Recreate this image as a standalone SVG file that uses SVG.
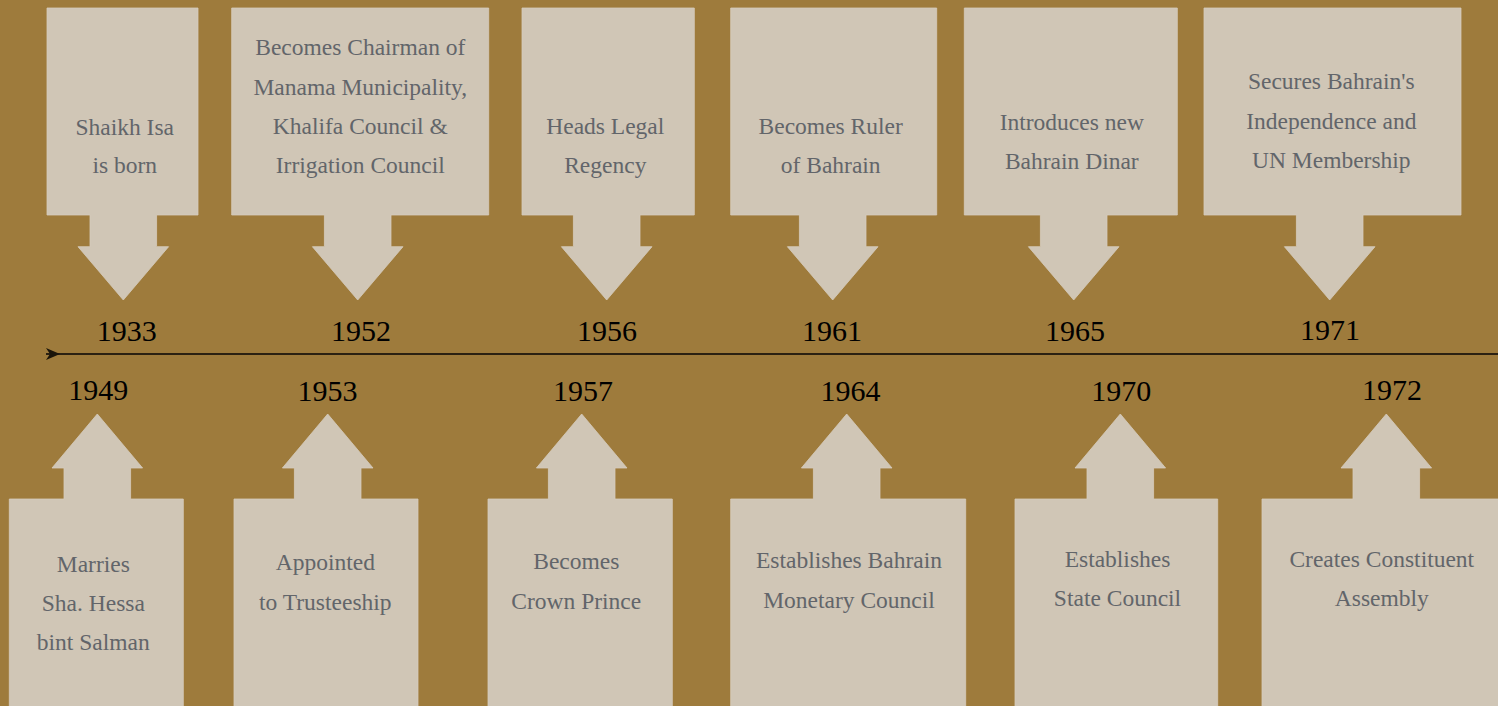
<svg xmlns="http://www.w3.org/2000/svg" width="1498" height="706" viewBox="0 0 1498 706">
<defs>
<style>
.bg{fill:#9e7b3c}
.co{fill:#d0c6b6;stroke:#d6ccbd;stroke-width:0.8}
text{font-family:"Liberation Serif",Tinos,"Times New Roman",Times,"Nimbus Roman","Nimbus Roman No9 L",FreeSerif,"Noto Serif","DejaVu Serif",Georgia,serif}
.t{font-size:23.5px;fill:#62656a;text-anchor:middle}
.y{font-size:30px;fill:#000;text-anchor:middle}
.axis{stroke:#2b2112;stroke-width:2;fill:none}
</style>
<marker id="arr" viewBox="0 0 14 12" refX="0" refY="6" markerWidth="14" markerHeight="12" markerUnits="userSpaceOnUse" orient="auto">
<path d="M0,0 L14,6 L0,12 L4,6 Z" fill="#1a140a"/>
</marker>
</defs>
<rect class="bg" x="0" y="0" width="1498" height="706"/>
<g id="connectors">
<line class="axis" x1="46" y1="354" x2="1498" y2="354" marker-start="url(#arr)"/>
</g>
<g id="e1933">
<path class="co" d="M47,8 H198 V215 H156.6 V246.7 H168.6 L123.3,300 L78,246.7 H90 V215 H47 Z"/>
<text class="t" x="124.7" y="134.5">Shaikh Isa</text>
<text class="t" x="124.7" y="173.2">is born</text>
<text class="y" x="126.7" y="341">1933</text>
</g>
<g id="e1952">
<path class="co" d="M231.7,8 H488.7 V215 H391 V246.7 H403 L357.7,300 L312.4,246.7 H324.4 V215 H231.7 Z"/>
<text class="t" x="360.3" y="55.3">Becomes Chairman of</text>
<text class="t" x="360.3" y="94.7">Manama Municipality,</text>
<text class="t" x="360.3" y="134">Khalifa Council &amp;</text>
<text class="t" x="360.3" y="173.3">Irrigation Council</text>
<text class="y" x="361" y="341">1952</text>
</g>
<g id="e1956">
<path class="co" d="M522,8 H694.3 V215 H640 V246.7 H652 L606.7,300 L561.4,246.7 H573.4 V215 H522 Z"/>
<text class="t" x="605.3" y="133.5">Heads Legal</text>
<text class="t" x="605.3" y="172.5">Regency</text>
<text class="y" x="607" y="341">1956</text>
</g>
<g id="e1961">
<path class="co" d="M730.7,8 H936.7 V215 H866 V246.7 H878 L832.7,300 L787.4,246.7 H799.4 V215 H730.7 Z"/>
<text class="t" x="830.7" y="134">Becomes Ruler</text>
<text class="t" x="830.7" y="172.7">of Bahrain</text>
<text class="y" x="832" y="341">1961</text>
</g>
<g id="e1965">
<path class="co" d="M964.3,8 H1177.3 V215 H1107 V246.7 H1119 L1073.7,300 L1028.4,246.7 H1040.4 V215 H964.3 Z"/>
<text class="t" x="1071.8" y="130">Introduces new</text>
<text class="t" x="1071.8" y="168.7">Bahrain Dinar</text>
<text class="y" x="1075" y="341">1965</text>
</g>
<g id="e1971">
<path class="co" d="M1204,8 H1461 V215 H1363 V246.7 H1375 L1329.7,300 L1284.4,246.7 H1296.4 V215 H1204 Z"/>
<text class="t" x="1331.3" y="89.3">Secures Bahrain's</text>
<text class="t" x="1331.3" y="129">Independence and</text>
<text class="t" x="1331.3" y="167.7">UN Membership</text>
<text class="y" x="1330" y="340">1971</text>
</g>
<g id="e1949">
<path class="co" d="M9.3,710 V499 H64 V468 H52 L97.3,414 L142.6,468 H130.6 V499 H183.3 V710 Z"/>
<text class="t" x="93.3" y="571.7">Marries</text>
<text class="t" x="93.3" y="611">Sha. Hessa</text>
<text class="t" x="93.3" y="650">bint Salman</text>
<text class="y" x="98.3" y="400">1949</text>
</g>
<g id="e1953">
<path class="co" d="M234,710 V499 H294.4 V468 H282.4 L327.7,414 L373,468 H361 V499 H418 V710 Z"/>
<text class="t" x="325.3" y="570">Appointed</text>
<text class="t" x="325.3" y="610">to Trusteeship</text>
<text class="y" x="327.5" y="400.5">1953</text>
</g>
<g id="e1957">
<path class="co" d="M488,710 V499 H548.4 V468 H536.4 L581.7,414 L627,468 H615 V499 H672.3 V710 Z"/>
<text class="t" x="576.3" y="569">Becomes</text>
<text class="t" x="576.3" y="608.7">Crown Prince</text>
<text class="y" x="583" y="400.5">1957</text>
</g>
<g id="e1964">
<path class="co" d="M730.7,710 V499 H813.4 V468 H801.4 L846.7,414 L892,468 H880 V499 H965.7 V710 Z"/>
<text class="t" x="849" y="568.3">Establishes Bahrain</text>
<text class="t" x="849" y="608">Monetary Council</text>
<text class="y" x="850.5" y="400.5">1964</text>
</g>
<g id="e1970">
<path class="co" d="M1015,710 V499 H1087 V468 H1075 L1120.3,414 L1165.6,468 H1153.6 V499 H1217.7 V710 Z"/>
<text class="t" x="1117.5" y="566.7">Establishes</text>
<text class="t" x="1117.5" y="606.3">State Council</text>
<text class="y" x="1121.2" y="400.5">1970</text>
</g>
<g id="e1972">
<path class="co" d="M1262,710 V499 H1353 V468 H1341 L1386.3,414 L1431.6,468 H1419.6 V499 H1510 V710 Z"/>
<text class="t" x="1381.8" y="566.7">Creates Constituent</text>
<text class="t" x="1381.8" y="605.7">Assembly</text>
<text class="y" x="1392" y="400">1972</text>
</g>
</svg>
